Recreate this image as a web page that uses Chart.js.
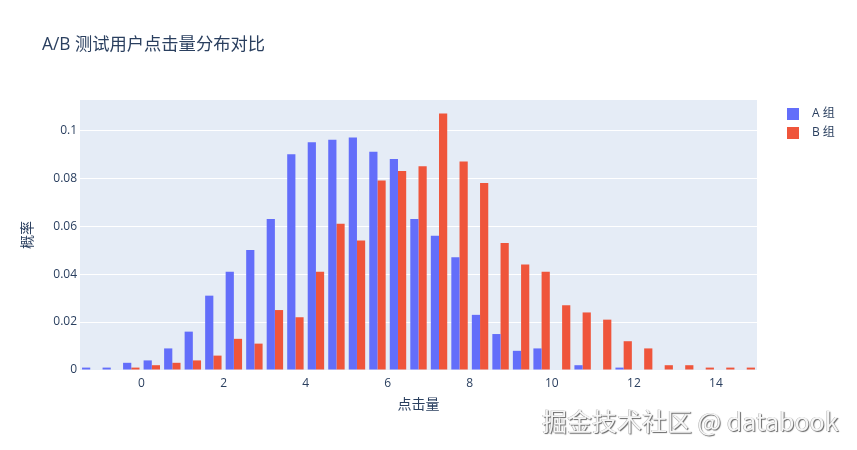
<!DOCTYPE html>
<html><head><meta charset="utf-8">
<script src="https://cdn.jsdelivr.net/npm/chart.js@4.4.1/dist/chart.umd.min.js"></script>
<style>
body{margin:0;background:#fff}
#wrap{position:relative;width:857px;height:450px}
#wm{position:absolute;left:542px;top:402px;font:25px "Noto Sans CJK SC",sans-serif;color:#f6f6f6;text-shadow:1px 1px 1px #666,-0.5px -0.5px 0 #aaa;white-space:nowrap}
</style></head><body>
<div id="wrap"><canvas id="c" width="857" height="450" style="width:857px;height:450px"></canvas><div id="wm">掘金技术社区 @ databook</div></div>
<script>
const chartTitle = 'A/B 测试用户点击量分布对比';
const xTitle = '点击量';
const yTitle = '概率';
const seriesNames = ['A 组', 'B 组'];
const seriesColors = ['#636EFA', '#EF553B'];
const binCenters = [-1.25,-0.75,-0.25,0.25,0.75,1.25,1.75,2.25,2.75,3.25,3.75,4.25,4.75,5.25,5.75,6.25,6.75,7.25,7.75,8.25,8.75,9.25,9.75,10.25,10.75,11.25,11.75,12.25,12.75,13.25,13.75,14.25,14.75];
const groupA = [0.001,0.001,0.003,0.004,0.009,0.016,0.031,0.041,0.050,0.063,0.090,0.095,0.096,0.097,0.091,0.088,0.063,0.056,0.047,0.023,0.015,0.008,0.009,0,0.002,0,0.001,0,0,0,0,0,0];
const groupB = [0,0,0.001,0.002,0.003,0.004,0.006,0.013,0.011,0.025,0.022,0.041,0.061,0.054,0.079,0.083,0.085,0.107,0.087,0.078,0.053,0.044,0.041,0.027,0.024,0.021,0.012,0.009,0.002,0.002,0.001,0.001,0.001];
const xTicks = [0,2,4,6,8,10,12,14];
const yTicks = [0,0.02,0.04,0.06,0.08,0.1];

const FONT = '"Open Sans", "Noto Sans CJK SC", sans-serif';
const TXT = '#2a3f5f';
Chart.defaults.font.family = FONT;
Chart.defaults.color = TXT;

const bgPlugin = {
  id: 'bg',
  beforeDraw(chart) {
    const {ctx, chartArea: a} = chart;
    ctx.save();
    ctx.fillStyle = '#E5ECF6';
    ctx.fillRect(a.left, a.top, a.right - a.left, a.bottom - a.top);
    ctx.restore();
  },
  afterDraw(chart) {
    const ctx = chart.ctx;
    ctx.save();
    ctx.fillStyle = TXT;
    ctx.textBaseline = 'middle';
    ctx.font = '17.3px ' + FONT;
    ctx.fillText(chartTitle, 42, 45);
    ctx.font = '12px ' + FONT;
    seriesNames.forEach((n, i) => {
      const y = 114 + i * 19;
      ctx.fillStyle = seriesColors[i];
      ctx.fillRect(787, y - 6, 12, 12);
      ctx.fillStyle = TXT;
      ctx.fillText(n, 812, y);
    });
    ctx.restore();
  }
};

new Chart(document.getElementById('c'), {
  type: 'bar',
  data: {
    datasets: [
      {label: seriesNames[0], data: binCenters.map((x, i) => ({x, y: groupA[i]})), backgroundColor: seriesColors[0], borderWidth: 0},
      {label: seriesNames[1], data: binCenters.map((x, i) => ({x, y: groupB[i]})), backgroundColor: seriesColors[1], borderWidth: 0}
    ]
  },
  options: {
    responsive: false,
    animation: false,
    devicePixelRatio: 1,
    layout: {padding: {top: 100, right: 100, left: 0, bottom: 0}},
    datasets: {bar: {categoryPercentage: 0.8, barPercentage: 1.0}},
    plugins: {legend: {display: false}, tooltip: {enabled: false}, title: {display: false}},
    scales: {
      x: {
        type: 'linear', min: -1.5, max: 15, offset: false,
        grid: {display: false, drawTicks: false},
        border: {display: false},
        afterBuildTicks: s => { s.ticks = xTicks.map(v => ({value: v})); },
        afterFit: s => { s.height = 80; },
        ticks: {color: TXT, font: {size: 12}, padding: 6, maxRotation: 0, autoSkip: false, callback: v => String(v)},
        title: {display: true, text: xTitle, color: TXT, font: {size: 14}, padding: {top: 4, bottom: 37}}
      },
      y: {
        min: 0, max: 0.1126,
        grid: {color: '#ffffff', lineWidth: 1, drawTicks: false},
        border: {display: false},
        afterBuildTicks: s => { s.ticks = yTicks.map(v => ({value: v})); },
        afterFit: s => { s.width = 80; },
        ticks: {color: TXT, font: {size: 12}, padding: 3, callback: v => String(+v.toFixed(2))},
        title: {display: true, text: yTitle, color: TXT, font: {size: 14}, padding: {top: 20, bottom: 4}}
      }
    }
  },
  plugins: [bgPlugin]
});
</script>
</body></html>
